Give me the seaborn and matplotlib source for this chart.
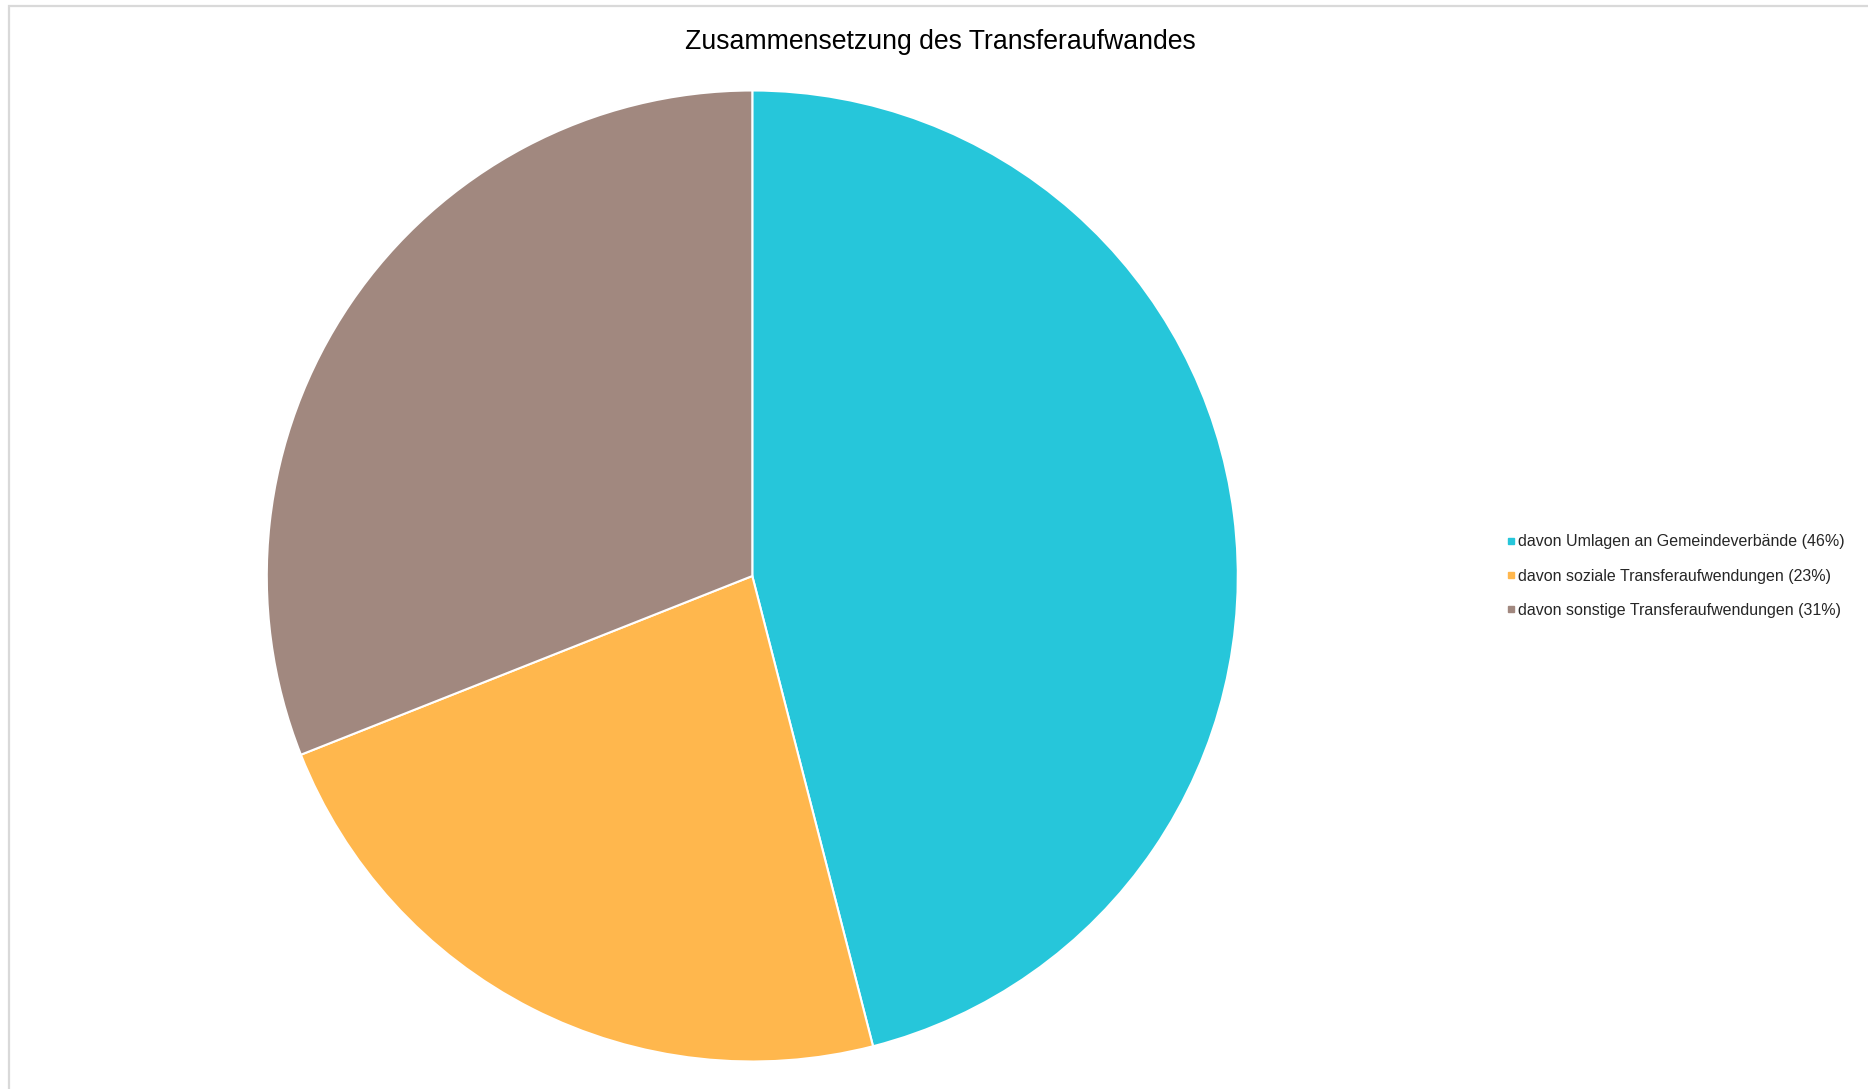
import matplotlib
matplotlib.use("Agg")
import matplotlib.pyplot as plt
from matplotlib.lines import Line2D
from matplotlib.patches import Rectangle
import seaborn as sns

# Shares of the transfer expenses (percent)
categories = [
    "davon Umlagen an Gemeindeverbände",
    "davon soziale Transferaufwendungen",
    "davon sonstige Transferaufwendungen",
]
shares = [46, 23, 31]
colors = ["#26C6DA", "#FFB74D", "#A1887F"]
title = "Zusammensetzung des Transferaufwandes"

sns.set_theme(style="white")
plt.rcParams["font.family"] = ["Liberation Sans", "DejaVu Sans"]

W, H, DPI = 1868, 1089, 100
fig = plt.figure(figsize=(W / DPI, H / DPI), dpi=DPI)
fig.patch.set_facecolor("white")

# light grey chart frame
fig.patches.append(Rectangle((9 / W, -0.05), 1.2, 1 - 6 / H + 0.05,
                             transform=fig.transFigure, fill=False,
                             edgecolor="#d9d9d9", linewidth=1.6))

cx, cy, r = 752.3, 576.0, 485.5
ax = fig.add_axes([(cx - r) / W, (H - cy - r) / H, 2 * r / W, 2 * r / H])
ax.pie(shares, colors=colors, startangle=90, counterclock=False,
       radius=1.0, wedgeprops=dict(edgecolor="white", linewidth=1.5))
ax.set_xlim(-1, 1)
ax.set_ylim(-1, 1)
ax.set_aspect("equal")
ax.axis("off")

fig.text(940 / W, 1 - 42 / H, title, ha="center", va="center",
         fontsize=19.2, color="black")

labels = [f"{c} ({v}%)" for c, v in zip(categories, shares)]
handles = [Line2D([0], [0], marker="s", linestyle="none", markersize=4.3,
                  markerfacecolor=c, markeredgecolor=c) for c in colors]
fig.legend(handles, labels, loc="center left",
           bbox_to_anchor=(1507 / W, 1 - 576 / H),
           frameon=False, fontsize=11.55, handlelength=0.5,
           handletextpad=0.2, labelspacing=1.2,
           borderpad=0, borderaxespad=0)

fig.savefig("out.png", dpi=DPI, facecolor="white")
